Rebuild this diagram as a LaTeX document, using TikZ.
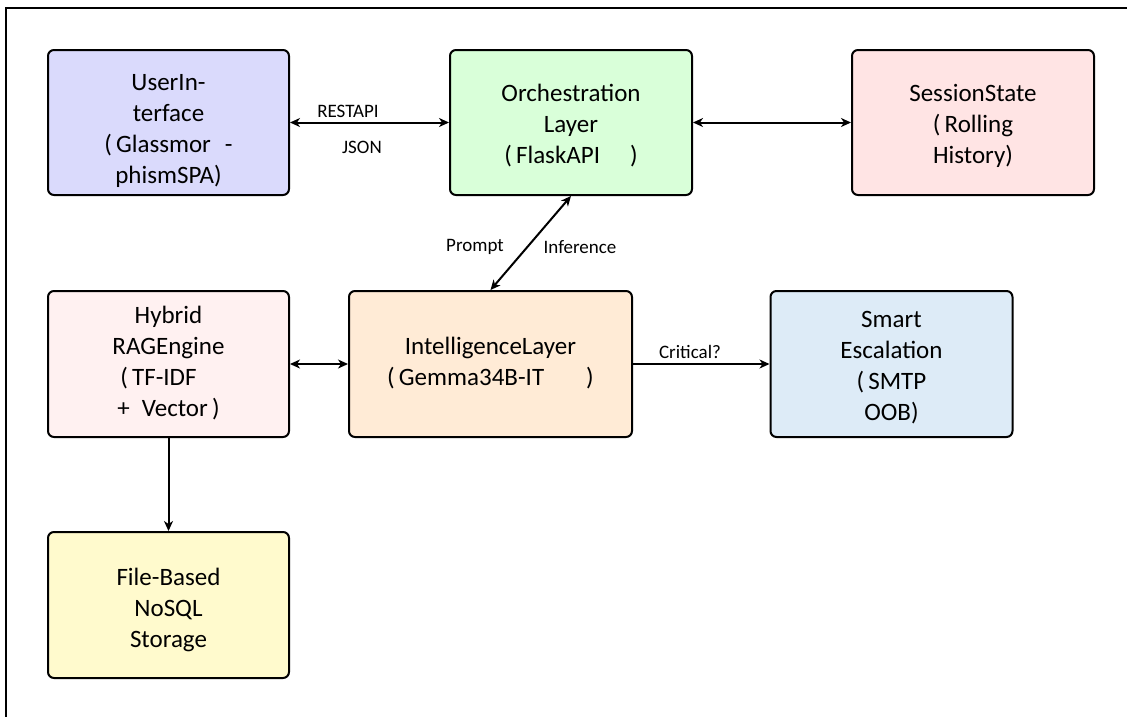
\documentclass[tikz,border=0pt]{standalone}
\usepackage{fontspec}
\setmainfont{Carlito}
\usetikzlibrary{arrows.meta}
\definecolor{cui}{RGB}{218,218,252}
\definecolor{corch}{RGB}{217,255,217}
\definecolor{csess}{RGB}{255,228,228}
\definecolor{crag}{RGB}{255,241,241}
\definecolor{cintel}{RGB}{255,235,214}
\definecolor{csmart}{RGB}{221,235,247}
\definecolor{cfile}{RGB}{255,250,205}
\newcommand\boxtxt[2]{\raisebox{-#1}[\height][\depth]{\begin{tabular}{@{}c@{}}#2\end{tabular}}}
\tikzset{
  blk/.style={draw=black, line width=2pt, rounded corners=6pt,
    font=\fontsize{25}{31}\selectfont, inner sep=0pt},
  conn/.style={line width=2pt, {Stealth[length=10pt,width=9pt,inset=3pt]}-{Stealth[length=10pt,width=9pt,inset=3pt]}},
  conr/.style={line width=2pt, -{Stealth[length=10pt,width=9pt,inset=3pt]}},
  lbl/.style={font=\fontsize{19}{23}\selectfont, inner sep=0pt}
}
\begin{document}
\begin{tikzpicture}[x=1pt,y=-1pt]
\useasboundingbox (0,0) rectangle (1127,716);
\clip (0,0) rectangle (1127,716);
\draw[line width=2pt] (6,730) -- (6,8) -- (1140,8);
\node[blk, fill=cui, minimum width=241pt, minimum height=145pt] (ui) at (168.5,122.5)
  {\boxtxt{8pt}{UserIn-\\terface\\(\,Glassmor\hspace{14pt}-\\phismSPA)}};
\node[blk, fill=corch, minimum width=242pt, minimum height=145pt] (orch) at (571,122.5)
  {\boxtxt{4pt}{Orchestration\\Layer\\(\,FlaskAPI\hspace{30pt})}};
\node[blk, fill=csess, minimum width=242pt, minimum height=145pt] (sess) at (973,122.5)
  {\boxtxt{4pt}{SessionState\\(\,Rolling\\History)}};
\node[blk, fill=crag, minimum width=241pt, minimum height=146pt] (rag) at (168.5,364)
  {\boxtxt{0pt}{Hybrid\\RAGEngine\\(\,TF-IDF\hspace{20pt}\mbox{}\\+\hspace{12pt}Vector\,)}};
\node[blk, fill=cintel, minimum width=283pt, minimum height=146pt] (intel) at (490.5,364)
  {\boxtxt{0pt}{IntelligenceLayer\\(\,Gemma34B-IT\hspace{42pt})}};
\node[blk, fill=csmart, minimum width=242pt, minimum height=146pt] (smart) at (891.5,364)
  {\boxtxt{4pt}{Smart\\Escalation\\(\,SMTP\\OOB)}};
\node[blk, fill=cfile, minimum width=241pt, minimum height=146pt] (file) at (168.5,605)
  {\boxtxt{5pt}{File-Based\\NoSQL\\Storage}};
\draw[conn] (ui.east) -- (orch.west);
\draw[conn] (orch.east) -- (sess.west);
\draw[conn] (intel.north) -- (orch.south);
\draw[conn] (rag.east) -- (intel.west);
\draw[conr] (intel.east) -- (smart.west);
\draw[conr] (rag.south) -- (file.north);
\node[lbl] (l1) at (348,111) {RESTAPI};
\node[lbl] (l2) at (362,147) {JSON};
\node[lbl] (l3) at (475,247) {Prompt};
\node[lbl] (l4) at (580,247) {Inference};
\node[lbl] (l5) at (690,352) {Critical?};
\end{tikzpicture}
\end{document}
